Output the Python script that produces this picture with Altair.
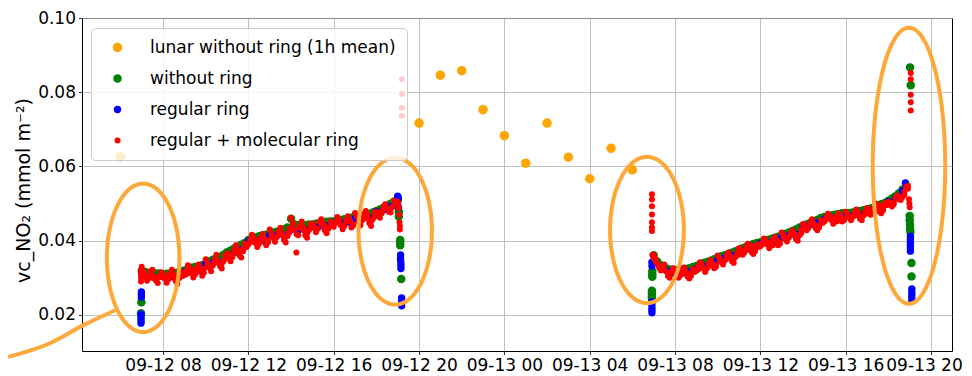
import altair as alt
import numpy as np
import pandas as pd

YEAR = 2021
FONT = "DejaVu Sans"

SERIES = ["lunar without ring (1h mean)", "without ring", "regular ring", "regular + molecular ring"]
COLORS = ["#ffa500", "#008000", "#0000ff", "#ff0000"]
SIZES = [90, 36, 36, 50]

X_TICKS = ["09-12 08:00", "09-12 12:00", "09-12 16:00", "09-12 20:00", "09-13 00:00",
           "09-13 04:00", "09-13 08:00", "09-13 12:00", "09-13 16:00", "09-13 20:00"]
X_DOMAIN = ["09-12 04:12", "09-13 20:59"]
Y_TICKS = [0.02, 0.04, 0.06, 0.08, 0.10]
Y_DOMAIN = [0.0103, 0.10]
Y_TITLE = "vc_NO₂ (mmol m⁻²)"

# lunar without ring, 1h mean
lunar_times = ["09-12 06:00", "09-12 20:00", "09-12 21:00", "09-12 22:00", "09-12 23:00", "09-13 00:00",
               "09-13 01:00", "09-13 02:00", "09-13 03:00", "09-13 04:00", "09-13 05:00", "09-13 06:00"]
lunar_values = [0.0626, 0.0717, 0.0846, 0.0858, 0.0753, 0.0683, 0.0609, 0.0717, 0.0625, 0.0567, 0.0649, 0.0591]

# regular + molecular ring, 5-minute samples
red_day1_start = "09-12 07:00"
red_day1 = [
    0.0330, 0.0318, 0.0302, 0.0292, 0.0305, 0.0318, 0.0322, 0.0305, 0.0293, 0.0286, 0.0302, 0.0315,
    0.0310, 0.0298, 0.0287, 0.0296, 0.0314, 0.0322, 0.0308, 0.0292, 0.0284, 0.0299, 0.0316, 0.0306,
    0.0308, 0.0320, 0.0334, 0.0326, 0.0312, 0.0301, 0.0310, 0.0327, 0.0336, 0.0323, 0.0306, 0.0314,
    0.0350, 0.0340, 0.0327, 0.0318, 0.0333, 0.0350, 0.0362, 0.0343, 0.0332, 0.0325, 0.0345, 0.0360,
    0.0366, 0.0355, 0.0345, 0.0356, 0.0376, 0.0388, 0.0375, 0.0360, 0.0355, 0.0372, 0.0392, 0.0383,
    0.0390, 0.0402, 0.0416, 0.0408, 0.0394, 0.0383, 0.0392, 0.0409, 0.0418, 0.0405, 0.0388, 0.0396,
    0.0430, 0.0420, 0.0407, 0.0397, 0.0410, 0.0425, 0.0435, 0.0415, 0.0403, 0.0395, 0.0413, 0.0432,
    0.0462, 0.0448, 0.0430, 0.0368, 0.0415, 0.0440, 0.0452, 0.0436, 0.0415, 0.0408, 0.0428, 0.0445,
    0.0446, 0.0434, 0.0423, 0.0432, 0.0450, 0.0458, 0.0444, 0.0428, 0.0420, 0.0435, 0.0452, 0.0442,
    0.0438, 0.0450, 0.0464, 0.0456, 0.0442, 0.0431, 0.0440, 0.0457, 0.0466, 0.0453, 0.0436, 0.0444,
    0.0475, 0.0465, 0.0452, 0.0442, 0.0455, 0.0470, 0.0480, 0.0460, 0.0448, 0.0440, 0.0458, 0.0477,
    0.0478, 0.0468, 0.0462, 0.0474, 0.0490, 0.0498, 0.0486, 0.0478, 0.0476, 0.0492, 0.0508, 0.0502,
    0.0505,
]
red_day1_mid_start = "09-12 07:05"
red_day1_mid = [
    0.0312, 0.0305, 0.0300, 0.0298, 0.0300, 0.0302,
    0.0300, 0.0302, 0.0304, 0.0302, 0.0300, 0.0305,
    0.0310, 0.0318, 0.0320, 0.0316, 0.0322, 0.0325,
    0.0335, 0.0330, 0.0340, 0.0345, 0.0338, 0.0352,
    0.0358, 0.0362, 0.0370, 0.0372, 0.0378, 0.0385,
    0.0396, 0.0402, 0.0400, 0.0398, 0.0405, 0.0400,
    0.0412, 0.0408, 0.0418, 0.0420, 0.0410, 0.0422,
    0.0445, 0.0418, 0.0435, 0.0428, 0.0420, 0.0435,
    0.0436, 0.0432, 0.0448, 0.0440, 0.0432, 0.0445,
    0.0448, 0.0452, 0.0440, 0.0450, 0.0455, 0.0442,
    0.0465, 0.0452, 0.0460, 0.0470, 0.0452, 0.0465,
    0.0472, 0.0478, 0.0488, 0.0485, 0.0490, 0.0502,
]
red_day2_start = "09-13 07:00"
red_day2 = [
    0.0360, 0.0350, 0.0338, 0.0328, 0.0320, 0.0330, 0.0336, 0.0318, 0.0305, 0.0300, 0.0315, 0.0326,
    0.0318, 0.0309, 0.0300, 0.0307, 0.0322, 0.0328, 0.0317, 0.0304, 0.0298, 0.0310, 0.0324, 0.0318,
    0.0320, 0.0330, 0.0342, 0.0336, 0.0325, 0.0316, 0.0326, 0.0340, 0.0348, 0.0338, 0.0326, 0.0334,
    0.0360, 0.0352, 0.0342, 0.0336, 0.0347, 0.0360, 0.0368, 0.0354, 0.0345, 0.0340, 0.0356, 0.0368,
    0.0380, 0.0371, 0.0362, 0.0370, 0.0384, 0.0392, 0.0382, 0.0370, 0.0364, 0.0376, 0.0390, 0.0384,
    0.0385, 0.0394, 0.0406, 0.0400, 0.0389, 0.0380, 0.0388, 0.0402, 0.0410, 0.0400, 0.0388, 0.0395,
    0.0422, 0.0415, 0.0405, 0.0398, 0.0408, 0.0420, 0.0428, 0.0414, 0.0405, 0.0400, 0.0415, 0.0430,
    0.0445, 0.0436, 0.0428, 0.0436, 0.0450, 0.0458, 0.0446, 0.0434, 0.0428, 0.0440, 0.0455, 0.0448,
    0.0452, 0.0462, 0.0473, 0.0466, 0.0455, 0.0446, 0.0454, 0.0467, 0.0474, 0.0464, 0.0452, 0.0458,
    0.0478, 0.0471, 0.0462, 0.0455, 0.0464, 0.0476, 0.0484, 0.0468, 0.0459, 0.0455, 0.0468, 0.0478,
    0.0488, 0.0479, 0.0470, 0.0478, 0.0492, 0.0500, 0.0490, 0.0478, 0.0474, 0.0488, 0.0502, 0.0496,
    0.0505, 0.0498, 0.0492, 0.0502, 0.0516, 0.0522, 0.0515, 0.0510, 0.0518, 0.0532, 0.0545, 0.0548,
]
red_day2_mid_start = "09-13 07:05"
red_day2_mid = [
    0.0345, 0.0332, 0.0325, 0.0318, 0.0310, 0.0315,
    0.0312, 0.0310, 0.0315, 0.0312, 0.0306, 0.0316,
    0.0322, 0.0328, 0.0322, 0.0332, 0.0338, 0.0330,
    0.0348, 0.0342, 0.0352, 0.0358, 0.0350, 0.0360,
    0.0374, 0.0368, 0.0380, 0.0386, 0.0372, 0.0384,
    0.0390, 0.0400, 0.0394, 0.0388, 0.0402, 0.0392,
    0.0410, 0.0404, 0.0416, 0.0420, 0.0410, 0.0420,
    0.0440, 0.0434, 0.0448, 0.0440, 0.0436, 0.0450,
    0.0458, 0.0466, 0.0460, 0.0452, 0.0466, 0.0456,
    0.0466, 0.0460, 0.0470, 0.0476, 0.0462, 0.0472,
    0.0482, 0.0476, 0.0486, 0.0494, 0.0482, 0.0496,
    0.0500, 0.0498, 0.0512, 0.0515, 0.0524, 0.0540,
]

# without ring, 10-minute samples
green_day1_start = "09-12 07:00"
green_day1 = [
    0.0319, 0.0316, 0.0312, 0.0310, 0.0312, 0.0312,
    0.0310, 0.0311, 0.0312, 0.0312, 0.0314, 0.0316,
    0.0320, 0.0324, 0.0327, 0.0329, 0.0331, 0.0334,
    0.0339, 0.0344, 0.0349, 0.0352, 0.0356, 0.0362,
    0.0369, 0.0374, 0.0379, 0.0384, 0.0389, 0.0394,
    0.0402, 0.0406, 0.0409, 0.0412, 0.0414, 0.0416,
    0.0419, 0.0422, 0.0424, 0.0427, 0.0430, 0.0436,
    0.0459, 0.0444, 0.0442, 0.0440, 0.0442, 0.0444,
    0.0444, 0.0446, 0.0448, 0.0449, 0.0451, 0.0452,
    0.0452, 0.0454, 0.0456, 0.0458, 0.0460, 0.0462,
    0.0462, 0.0466, 0.0468, 0.0470, 0.0472, 0.0476,
    0.0480, 0.0484, 0.0489, 0.0494, 0.0500, 0.0506,
    0.0509,
]
green_day2_start = "09-13 07:00"
green_day2 = [
    0.0361, 0.0344, 0.0334, 0.0328, 0.0324, 0.0322,
    0.0320, 0.0321, 0.0322, 0.0324, 0.0326, 0.0329,
    0.0332, 0.0336, 0.0340, 0.0343, 0.0346, 0.0350,
    0.0354, 0.0358, 0.0361, 0.0364, 0.0368, 0.0372,
    0.0376, 0.0380, 0.0384, 0.0388, 0.0391, 0.0394,
    0.0396, 0.0399, 0.0402, 0.0405, 0.0408, 0.0411,
    0.0414, 0.0418, 0.0422, 0.0426, 0.0430, 0.0436,
    0.0440, 0.0444, 0.0448, 0.0452, 0.0456, 0.0461,
    0.0464, 0.0466, 0.0468, 0.0470, 0.0472, 0.0474,
    0.0474, 0.0475, 0.0476, 0.0478, 0.0480, 0.0482,
    0.0484, 0.0487, 0.0490, 0.0494, 0.0498, 0.0502,
    0.0508, 0.0514, 0.0520, 0.0528, 0.0538, 0.0548,
]

# regular ring, 20-minute samples
blue_day1_start = "09-12 07:00"
blue_day1 = [
    0.0310, 0.0305, 0.0302, 0.0303, 0.0302, 0.0302, 0.0315, 0.0318, 0.0320, 0.0338,
    0.0340, 0.0342, 0.0362, 0.0368, 0.0375, 0.0398, 0.0400, 0.0400, 0.0414, 0.0415,
    0.0416, 0.0430, 0.0428, 0.0430, 0.0438, 0.0440, 0.0440, 0.0448, 0.0448, 0.0450,
    0.0460, 0.0460, 0.0462, 0.0478, 0.0484, 0.0492, 0.0520,
]
blue_day2_start = "09-13 07:00"
blue_day2 = [
    0.0340, 0.0325, 0.0318, 0.0312, 0.0313, 0.0316, 0.0325, 0.0332, 0.0338, 0.0348,
    0.0354, 0.0360, 0.0372, 0.0378, 0.0384, 0.0392, 0.0396, 0.0400, 0.0410, 0.0414,
    0.0418, 0.0438, 0.0444, 0.0448, 0.0458, 0.0460, 0.0462, 0.0466, 0.0468, 0.0470,
    0.0482, 0.0486, 0.0490, 0.0505, 0.0515, 0.0535,
]

# scattered points at the start and the end of each day
red_extra_times = ["09-12 06:58", "09-12 06:58", "09-12 06:58", "09-12 06:58",
                   "09-12 19:02", "09-12 19:03", "09-12 19:04", "09-12 19:05", "09-12 19:06", "09-12 19:06",
                   "09-12 19:12", "09-12 19:12", "09-12 19:12", "09-12 19:12",
                   "09-13 06:55", "09-13 06:55", "09-13 06:55", "09-13 06:55", "09-13 06:55", "09-13 06:55",
                   "09-13 06:55", "09-13 06:57", "09-13 06:59", "09-13 07:02",
                   "09-13 18:58", "09-13 18:59", "09-13 19:00",
                   "09-13 19:03", "09-13 19:03", "09-13 19:03", "09-13 19:03", "09-13 19:03"]
red_extra_values = [0.0320, 0.0312, 0.0300, 0.0290,
                    0.0500, 0.0488, 0.0470, 0.0450, 0.0440, 0.0430,
                    0.0835, 0.0795, 0.0758, 0.0737,
                    0.0525, 0.0511, 0.0493, 0.0471, 0.0450, 0.0436,
                    0.0426, 0.0362, 0.0358, 0.0350,
                    0.0512, 0.0500, 0.0490,
                    0.0852, 0.0835, 0.0793, 0.0773, 0.0751]

green_extra_times = ["09-12 06:59", "09-12 06:58",
                     "09-12 19:03", "09-12 19:03", "09-12 19:07", "09-12 19:07", "09-12 19:07", "09-12 19:10",
                     "09-13 06:56", "09-13 06:56", "09-13 06:56", "09-13 06:55", "09-13 06:55", "09-13 06:55", "09-13 06:55",
                     "09-13 19:00", "09-13 19:00", "09-13 19:01", "09-13 19:01", "09-13 19:02",
                     "09-13 19:05", "09-13 19:05", "09-13 19:01", "09-13 19:03"]
green_extra_values = [0.0234, 0.0205,
                      0.0478, 0.0465, 0.0402, 0.0395, 0.0388, 0.0297,
                      0.0318, 0.0310, 0.0303, 0.0265, 0.0258, 0.0250, 0.0244,
                      0.0467, 0.0455, 0.0443, 0.0432, 0.0424,
                      0.0340, 0.0304, 0.0867, 0.0819]

blue_extra_times = ["09-12 06:58", "09-12 06:58", "09-12 06:58", "09-12 06:58", "09-12 06:58",
                    "09-12 06:59", "09-12 06:59", "09-12 06:59",
                    "09-12 19:02", "09-12 19:02", "09-12 19:08", "09-12 19:08", "09-12 19:08",
                    "09-12 19:09", "09-12 19:09", "09-12 19:09",
                    "09-12 19:11", "09-12 19:11", "09-12 19:11", "09-12 19:11",
                    "09-13 06:55", "09-13 06:55", "09-13 06:55", "09-13 06:55", "09-13 06:55",
                    "09-13 06:55", "09-13 06:55",
                    "09-13 18:48",
                    "09-13 19:02", "09-13 19:02", "09-13 19:02", "09-13 19:02", "09-13 19:02", "09-13 19:02",
                    "09-13 19:06", "09-13 19:06", "09-13 19:06", "09-13 19:06", "09-13 19:06"]
blue_extra_values = [0.0202, 0.0196, 0.0190, 0.0184, 0.0178,
                     0.0262, 0.0255, 0.0248,
                     0.0515, 0.0490, 0.0362, 0.0355, 0.0348,
                     0.0340, 0.0332, 0.0325,
                     0.0246, 0.0239, 0.0232, 0.0225,
                     0.0342, 0.0332, 0.0235, 0.0228, 0.0220,
                     0.0213, 0.0206,
                     0.0556,
                     0.0412, 0.0404, 0.0396, 0.0388, 0.0380, 0.0372,
                     0.0270, 0.0262, 0.0254, 0.0246, 0.0238]

# hand-drawn orange ellipses (centre time, centre value, half width in hours, half height)
ellipse_centres_t = ["09-12 07:04", "09-12 18:53", "09-13 06:41", "09-13 18:58"]
ellipse_centres_v = [0.0354, 0.0426, 0.0429, 0.0602]
ellipse_half_w_h = [1.70, 1.72, 1.73, 1.70]
ellipse_half_h = [0.0200, 0.0198, 0.0197, 0.0372]

# hand-drawn orange curve at the bottom left
curve_times = ["09-12 00:44", "09-12 02:42", "09-12 04:15", "09-12 05:45"]
curve_values = [0.0087, 0.0124, 0.0172, 0.0213]

ANNOT_COLOR = "#ffa83a"


def ts(s):
    return pd.Timestamp(f"{YEAR}-{s[:5]} {s[6:]}", tz="UTC")


def iso(t):
    return t.strftime("%Y-%m-%dT%H:%M:%SZ")


def ms(s):
    return int(ts(s).value // 10**6)


def regular(start, values, minutes, series):
    t0 = ts(start)
    return [{"t": iso(t0 + pd.Timedelta(minutes=minutes * i)), "v": v, "series": series}
            for i, v in enumerate(values)]


def explicit(times, values, series):
    return [{"t": iso(ts(s)), "v": v, "series": series} for s, v in zip(times, values)]


orange_df = pd.DataFrame(explicit(lunar_times, lunar_values, SERIES[0]))
green_df = pd.DataFrame(regular(green_day1_start, green_day1, 10, SERIES[1])
                        + regular(green_day2_start, green_day2, 10, SERIES[1])
                        + explicit(green_extra_times, green_extra_values, SERIES[1]))
blue_df = pd.DataFrame(regular(blue_day1_start, blue_day1, 20, SERIES[2])
                       + regular(blue_day2_start, blue_day2, 20, SERIES[2])
                       + explicit(blue_extra_times, blue_extra_values, SERIES[2]))
red_df = pd.DataFrame(regular(red_day1_mid_start, red_day1_mid, 10, SERIES[3])
                      + regular(red_day2_mid_start, red_day2_mid, 10, SERIES[3])
                      + regular(red_day1_start, red_day1, 5, SERIES[3])
                      + regular(red_day2_start, red_day2, 5, SERIES[3])
                      + explicit(red_extra_times, red_extra_values, SERIES[3]))

ell_rows = []
angles = np.linspace(0, 2 * np.pi, 97)
for i in range(len(ellipse_centres_t)):
    c = ts(ellipse_centres_t[i])
    for k, a in enumerate(angles):
        ell_rows.append({
            "t": iso(c + pd.Timedelta(hours=float(ellipse_half_w_h[i] * np.cos(a)))),
            "v": float(ellipse_centres_v[i] + ellipse_half_h[i] * np.sin(a)),
            "id": i, "k": k,
        })
ell_df = pd.DataFrame(ell_rows)
curve_df = pd.DataFrame([{"t": iso(ts(s)), "v": v, "k": k}
                         for k, (s, v) in enumerate(zip(curve_times, curve_values))])

legend = alt.Legend(
    title=None, orient="none", legendX=9, legendY=10,
    fillColor="rgba(255,255,255,0.8)", strokeColor="#cccccc", cornerRadius=4,
    padding=11, symbolOffset=7, labelOffset=24, rowPadding=13,
    labelFontSize=17, labelFont=FONT, labelColor="black", labelLimit=400,
    symbolStrokeWidth=0, symbolType="circle", symbolOpacity=1,
)

last_tick = ms(X_TICKS[-1])
x_enc = alt.X(
    "t:T",
    scale=alt.Scale(type="utc", domain=[ms(X_DOMAIN[0]), ms(X_DOMAIN[1])], nice=False),
    axis=alt.Axis(values=[ms(s) for s in X_TICKS],
                  labelExpr="utcFormat(datum.value, '%m-%d %H')",
                  labelPadding=3, labelFlush=False, labelOverlap=False,
                  labelOffset={"condition": {"test": f"time(datum.value) == {last_tick}", "value": -7},
                               "value": 0}),
    title=None,
)
y_enc = alt.Y(
    "v:Q",
    scale=alt.Scale(domain=Y_DOMAIN, nice=False, zero=False),
    axis=alt.Axis(values=Y_TICKS, format=".2f", labelPadding=3,
                  title=Y_TITLE, titleFontSize=19, titleFont=FONT, titleFontWeight="normal",
                  titleColor="black", titleAngle=270, titleX=-59, titleY=172,
                  titleAlign="center", titleBaseline="middle"),
)
color_enc = alt.Color("series:N", scale=alt.Scale(domain=SERIES, range=COLORS), legend=legend)
size_enc = alt.Size("series:N", scale=alt.Scale(domain=SERIES, range=SIZES), legend=legend)


def points(df):
    return alt.Chart(df).mark_circle(opacity=1).encode(x=x_enc, y=y_enc, color=color_enc, size=size_enc)


ellipses = alt.Chart(ell_df).mark_line(color=ANNOT_COLOR, strokeWidth=4, clip=False).encode(
    x=x_enc, y=y_enc, detail="id:N", order="k:Q")
curve = alt.Chart(curve_df).mark_line(color=ANNOT_COLOR, strokeWidth=4, clip=False,
                                      interpolate="monotone").encode(x=x_enc, y=y_enc, order="k:Q")

chart = alt.layer(
    points(orange_df), points(green_df), points(blue_df), points(red_df), ellipses, curve
).properties(
    width=870, height=333,
    autosize=alt.AutoSizeParams(type="none"),
    padding={"left": 74, "top": 10, "right": 12, "bottom": 24},
).configure_view(
    stroke="black", strokeWidth=1,
).configure_axis(
    grid=True, gridColor="#b0b0b0", gridWidth=0.8, domain=False,
    tickColor="black", tickSize=3.5, tickWidth=0.8,
    labelFont=FONT, labelFontSize=17, labelColor="black",
)

chart.save("out.html", embed_options={"renderer": "svg", "actions": False})
